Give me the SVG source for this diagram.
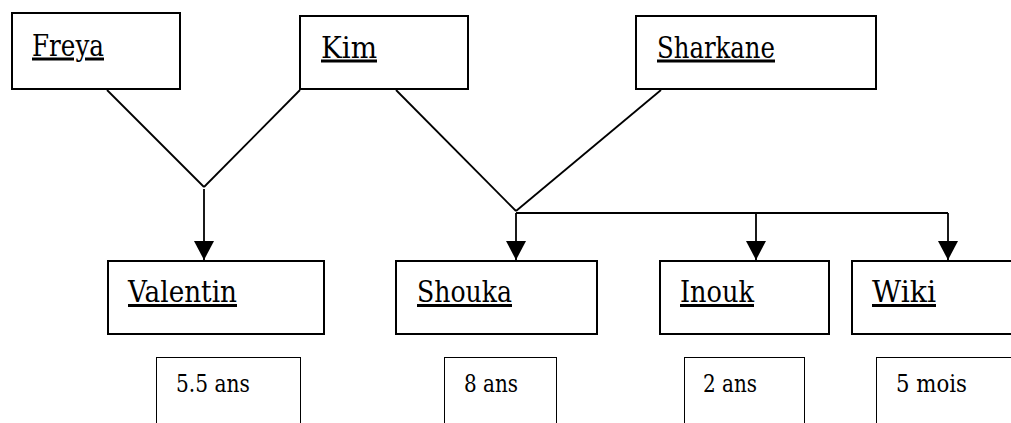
<svg xmlns="http://www.w3.org/2000/svg" width="1011" height="423" viewBox="0 0 1011 423">
<style>
.box{fill:#fff;stroke:#000;stroke-width:2}
.age{fill:#fff;stroke:#000;stroke-width:1}
.name{font-family:"DejaVu Serif","Liberation Serif",serif;font-size:30px;fill:#000;text-decoration:underline}
.agetxt{font-family:"DejaVu Serif","Liberation Serif",serif;font-size:23.5px;fill:#000}
.c{stroke:#000;stroke-width:1.8;fill:none}
</style>
<defs>
<marker id="arr" markerUnits="userSpaceOnUse" markerWidth="20" markerHeight="20" refX="19" refY="10" orient="auto">
<path d="M0,0 L19,10 L0,20 z" fill="#000"/>
</marker>
</defs>
<rect width="1011" height="423" fill="#fff"/>
<g id="connectors">
<line class="c" x1="107" y1="90" x2="204" y2="187"/>
<line class="c" x1="300" y1="90" x2="204" y2="187"/>
<line class="c" x1="204" y1="189" x2="204" y2="260" marker-end="url(#arr)"/>
<line class="c" x1="396" y1="90" x2="516" y2="211"/>
<line class="c" x1="661" y1="90" x2="516" y2="211"/>
<line class="c" x1="516" y1="213" x2="516" y2="260" marker-end="url(#arr)"/>
<line class="c" x1="516" y1="213" x2="948" y2="213"/>
<line class="c" x1="756" y1="213" x2="756" y2="260" marker-end="url(#arr)"/>
<line class="c" x1="948" y1="213" x2="948" y2="260" marker-end="url(#arr)"/>
</g>
<g id="freya"><rect class="box" x="12" y="13" width="168" height="76"/><text class="name" x="32" y="55.5" textLength="72" lengthAdjust="spacingAndGlyphs">Freya</text></g>
<g id="kim"><rect class="box" x="300" y="16" width="168" height="73"/><text class="name" x="321" y="57.5" textLength="56" lengthAdjust="spacingAndGlyphs">Kim</text></g>
<g id="sharkane"><rect class="box" x="636" y="16" width="240" height="73"/><text class="name" x="657" y="57.5" textLength="118" lengthAdjust="spacingAndGlyphs">Sharkane</text></g>
<g id="valentin"><rect class="box" x="108" y="261" width="216" height="73"/><text class="name" x="128" y="302" textLength="109" lengthAdjust="spacingAndGlyphs">Valentin</text></g>
<g id="shouka"><rect class="box" x="396" y="261" width="201" height="73"/><text class="name" x="417" y="302" textLength="95" lengthAdjust="spacingAndGlyphs">Shouka</text></g>
<g id="inouk"><rect class="box" x="660" y="261" width="169" height="73"/><text class="name" x="680" y="302" textLength="74" lengthAdjust="spacingAndGlyphs">Inouk</text></g>
<g id="wiki"><rect class="box" x="852" y="261" width="180" height="73"/><text class="name" x="872" y="302" textLength="64" lengthAdjust="spacingAndGlyphs">Wiki</text></g>
<g id="age-valentin"><rect class="age" x="156.5" y="357.5" width="144" height="80"/><text class="agetxt" x="176" y="392" textLength="74" lengthAdjust="spacingAndGlyphs">5.5 ans</text></g>
<g id="age-shouka"><rect class="age" x="444.5" y="357.5" width="112" height="80"/><text class="agetxt" x="464" y="392" textLength="54" lengthAdjust="spacingAndGlyphs">8 ans</text></g>
<g id="age-inouk"><rect class="age" x="684.5" y="357.5" width="120" height="80"/><text class="agetxt" x="703" y="392" textLength="54" lengthAdjust="spacingAndGlyphs">2 ans</text></g>
<g id="age-wiki"><rect class="age" x="876.5" y="357.5" width="160" height="80"/><text class="agetxt" x="896" y="392" textLength="71" lengthAdjust="spacingAndGlyphs">5 mois</text></g>
</svg>
